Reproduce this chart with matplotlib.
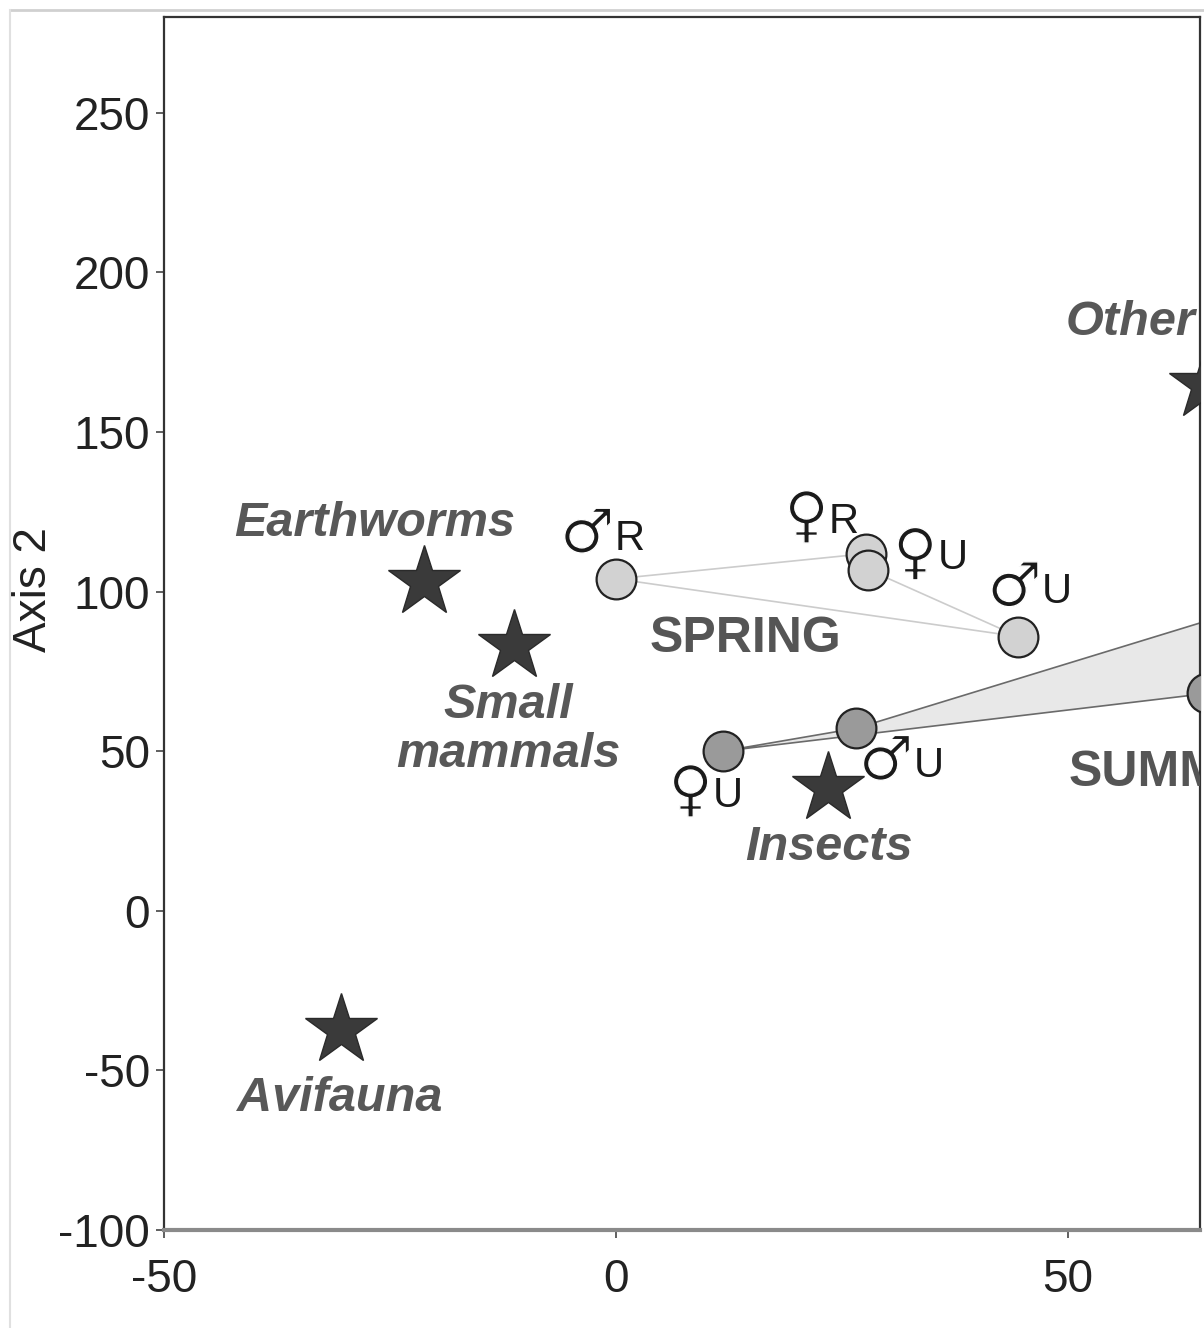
import matplotlib
matplotlib.use("Agg")
import matplotlib.pyplot as plt
import matplotlib.patheffects as pe
from matplotlib.patches import Polygon
from matplotlib.lines import Line2D

plt.rcParams["font.family"] = ["Liberation Sans", "DejaVu Sans"]
plt.rcParams["axes.unicode_minus"] = False

# food categories (stars)
food_names = ["Earthworms", "Small\nmammals", "Insects", "Avifauna", "Other"]
food_x = [-21.2, -11.3, 23.5, -30.4, 65.2]
food_y = [103.0, 82.8, 38.4, -37.5, 164.7]

# spring groups
spring_sex = ["♂", "♀", "♀", "♂"]
spring_site = ["R", "R", "U", "U"]
spring_x = [0.0, 27.7, 27.9, 44.5]
spring_y = [104.0, 111.9, 106.9, 85.9]

# summer groups (two lie beyond the right edge of the crop)
summer_sex = ["♀", "♂", "", ""]
summer_site = ["U", "U", "", ""]
summer_x = [11.8, 26.6, 84.0, 65.4]
summer_y = [50.0, 57.2, 107.0, 68.1]

xticks = [-50, 0, 50]
yticks = [-100, -50, 0, 50, 100, 150, 200, 250]

W, H = 1204, 1328
fig = plt.figure(figsize=(W / 100, H / 100), dpi=100, facecolor="white")
ax = fig.add_axes([164 / W, 1 - 1230 / H, (1200 - 164) / W, (1230 - 17) / H])
ax.set_xlim(-50, 64.6)
ax.set_ylim(-100, 280)

# faint outer frame from the scan
fig.add_artist(Line2D([10 / W, 1], [1 - 10 / H, 1 - 10 / H], transform=fig.transFigure,
                      color="#d0d0d0", lw=2))
fig.add_artist(Line2D([10 / W, 10 / W], [0, 1 - 10 / H], transform=fig.transFigure,
                      color="#e0e0e0", lw=1.5))

# summer hull (shaded)
summer_hull = [0, 1, 2, 3]
ax.add_patch(Polygon([(summer_x[i], summer_y[i]) for i in summer_hull], closed=True,
                     facecolor="#e8e8e8", edgecolor="#6a6a6a", lw=1.2, zorder=1))

# spring hull (outline only)
spring_hull = [0, 1, 2, 3]
ax.add_patch(Polygon([(spring_x[i], spring_y[i]) for i in spring_hull], closed=True,
                     facecolor="none", edgecolor="#cccccc", lw=1.2, zorder=1))

ax.scatter(spring_x, spring_y, s=820, c="#d2d2d2", edgecolors="#222222", linewidths=1.6, zorder=3)
ax.scatter(summer_x, summer_y, s=820, c="#9a9a9a", edgecolors="#222222", linewidths=1.6, zorder=3)

ax.plot(food_x, food_y, linestyle="none", marker="*", markersize=54,
        color="#3a3a3a", markeredgecolor="#2a2a2a", zorder=4)

# white outline drawn over the glyph thins the heavy DejaVu strokes
thin = [pe.Normal(), pe.Stroke(linewidth=1.0, foreground="white")]


def group_label(sex, site, x, y, off):
    ax.annotate(sex, (x, y), xytext=(off[0] + 1, off[1] + 2), textcoords="offset points",
                ha="right", va="center", fontsize=44, color="#1a1a1a",
                family=["DejaVu Sans"], path_effects=thin, zorder=5)
    ax.annotate(site, (x, y), xytext=(off[0] + 1, off[1]), textcoords="offset points",
                ha="left", va="center", fontsize=30, color="#1a1a1a", zorder=5)


spring_off = [(-2, 29), (-28, 23), (49, 8), (16, 32)]
for sex, site, x, y, off in zip(spring_sex, spring_site, spring_x, spring_y, spring_off):
    group_label(sex, site, x, y, off)
summer_off = [(-8, -32), (40, -27), (0, 0), (0, 0)]
for sex, site, x, y, off in zip(summer_sex, summer_site, summer_x, summer_y, summer_off):
    if sex:
        group_label(sex, site, x, y, off)

food_off = [(-36, 42), (-4, -60), (0, -43), (-1, -49), (-101, 45)]
food_ha = ["center", "center", "center", "center", "left"]
for name, x, y, off, ha in zip(food_names, food_x, food_y, food_off, food_ha):
    ax.annotate(name, (x, y), xytext=off, textcoords="offset points", ha=ha,
                va="center", fontsize=35, fontweight="bold", fontstyle="italic",
                color="#585858", linespacing=1.1, zorder=5, annotation_clip=False)

ax.text(14.3, 85.3, "SPRING", ha="center", va="center", fontsize=36,
        fontweight="bold", color="#555555", zorder=5)
ax.text(50.1, 43.1, "SUMMER", ha="left", va="center", fontsize=36,
        fontweight="bold", color="#555555", zorder=5, clip_on=True)

ax.set_xticks(xticks)
ax.set_yticks(yticks)
ax.tick_params(axis="both", direction="out", length=6, width=1.2, colors="#444444",
               labelsize=33, labelcolor="#222222", pad=4)
ax.tick_params(axis="x", pad=14)
ax.set_ylabel("Axis 2", fontsize=33, color="#222222")
ax.yaxis.set_label_coords(-0.104, 0.528)

for side in ("left", "top", "right"):
    ax.spines[side].set_color("#333333")
    ax.spines[side].set_linewidth(1.6)
ax.spines["bottom"].set_color("#8a8a8a")
ax.spines["bottom"].set_linewidth(3)

fig.savefig("out.png", dpi=100, facecolor="white")
